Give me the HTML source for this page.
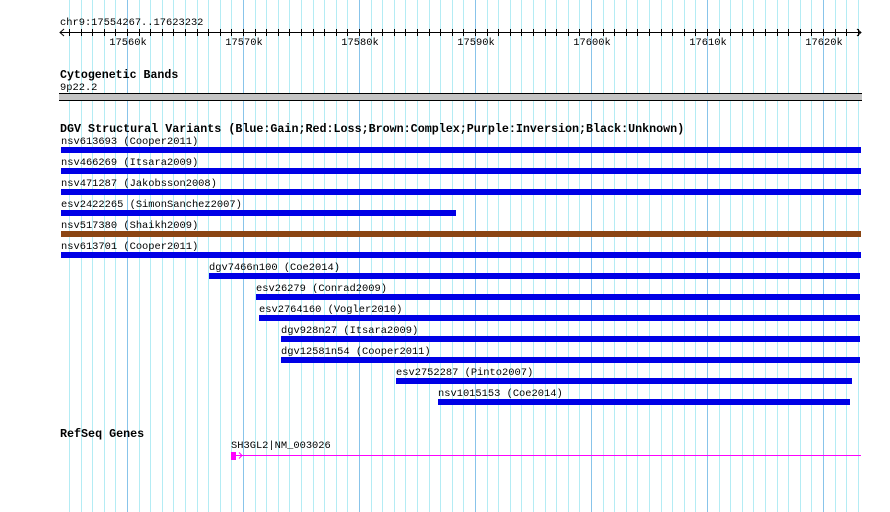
<!DOCTYPE html>
<html><head><meta charset="utf-8"><style>
body{margin:0;background:#fff;}
svg{display:block;font-family:"Liberation Mono","DejaVu Sans Mono",monospace;}
</style></head><body>
<svg id="c" width="890" height="512" xmlns="http://www.w3.org/2000/svg" shape-rendering="crispEdges"></svg>
<script>
const startBp = 17554267, endBp = 17623232;
const tickLabels = ["17560k","17570k","17580k","17590k","17600k","17610k","17620k"];
const tickValues = [17560000,17570000,17580000,17590000,17600000,17610000,17620000];
const variantNames = ["nsv613693 (Cooper2011)","nsv466269 (Itsara2009)","nsv471287 (Jakobsson2008)","esv2422265 (SimonSanchez2007)","nsv517380 (Shaikh2009)","nsv613701 (Cooper2011)","dgv7466n100 (Coe2014)","esv26279 (Conrad2009)","esv2764160 (Vogler2010)","dgv928n27 (Itsara2009)","dgv12581n54 (Cooper2011)","esv2752287 (Pinto2007)","nsv1015153 (Coe2014)"];
const variantStarts = [17554267,17554267,17554267,17554267,17554267,17554267,17567100,17571150,17571400,17573300,17573300,17583200,17586800];
const variantEnds = [17623232,17623232,17623232,17588300,17623232,17623232,17623232,17623232,17623232,17623232,17623232,17622500,17622300];
const variantTypes = ["gain","gain","gain","gain","complex","gain","gain","gain","gain","gain","gain","gain","gain"];
const geneStart = 17569000, geneEnd = 17623232;

const NS="http://www.w3.org/2000/svg";
const svg=document.getElementById('c');
const x = bp => 60.5 + (bp-startBp)*(800/(endBp-startBp));
function mk(tag,attrs,parent){const e=document.createElementNS(NS,tag);for(const k in attrs)e.setAttribute(k,attrs[k]);(parent||svg).appendChild(e);return e;}
function txt(s,xx,yy,size,bold,anchor){const t=mk('text',{x:xx,y:yy,'font-size':size,'font-weight':bold?'bold':'normal','text-anchor':anchor||'start',fill:'#000'});t.textContent=s;return t;}

// grid
const grid=mk('g',{});


for(let b=Math.ceil(startBp/1000)*1000;b<=endBp;b+=1000){
  const major=b%10000===0;
  const xx=Math.round(x(b));
  mk('rect',{x:xx,y:0,width:1,height:512,fill:major?'#88c4ea':'#b4ecf4'},grid);
}
// ruler
const pos=txt("chr9:17554267..17623232",60,25,10.4,false);


const ruler=mk('g',{});


mk('rect',{x:60,y:32,width:801,height:1,fill:'#000'},ruler);
mk('path',{d:'M64 29 L60 32.5 L64 36 M857 29 L861 32.5 L857 36',stroke:'#000',fill:'none','shape-rendering':'auto'},ruler);
for(let b=Math.ceil(startBp/1000)*1000;b<=endBp;b+=1000){
  const xx=Math.round(x(b));
  mk('rect',{x:xx,y:29,width:1,height:7,fill:'#000'},ruler);
}
tickValues.forEach((v,i)=>{
  const t=txt(tickLabels[i],x(v)+1,45,10.4,false,'middle');
  
  
});
// cytobands
const ch=txt("Cytogenetic Bands",60,78,11.6,true);


const cl=txt("9p22.2",60,90,10.4,false);


const cb=mk('g',{});


mk('rect',{x:59,y:93,width:803,height:8,fill:'#c4c4c4'},cb);
mk('rect',{x:59,y:93,width:803,height:1,fill:'#000'},cb);
mk('rect',{x:59,y:100,width:803,height:1,fill:'#000'},cb);
// DGV
const dh=txt("DGV Structural Variants (Blue:Gain;Red:Loss;Brown:Complex;Purple:Inversion;Black:Unknown)",60,132,11.7,true);


const colors={gain:'#0000e6',loss:'#e00000',complex:'#8b4513',inversion:'#800080',unknown:'#000'};
variantNames.forEach((n,i)=>{
  const by=147+i*21;
  const x0=x(variantStarts[i]), x1=x(variantEnds[i]);
  const l=txt(n,Math.round(x0),by-3,10.4,false);
  
  
  const r=mk('rect',{x:Math.round(x0),y:by,width:Math.round(x1-x0),height:6,fill:colors[variantTypes[i]]});
  
  
});
// RefSeq
const rh=txt("RefSeq Genes",60,437,11.7,true);


const gx=Math.round(x(geneStart));
const gl=txt("SH3GL2|NM_003026",gx,448,10.4,false);


const gene=mk('g',{});


mk('rect',{x:gx,y:452,width:5,height:8,fill:'#ff00ff'},gene);
mk('rect',{x:gx+5,y:455,width:Math.round(x(geneEnd))-gx-5,height:1,fill:'#ff00ff'},gene);
mk('path',{d:`M${gx+8} 452.5 L${gx+11} 455.5 L${gx+8} 458.5`,stroke:'#ff00ff',fill:'none','shape-rendering':'auto'},gene);
</script>
</body></html>
